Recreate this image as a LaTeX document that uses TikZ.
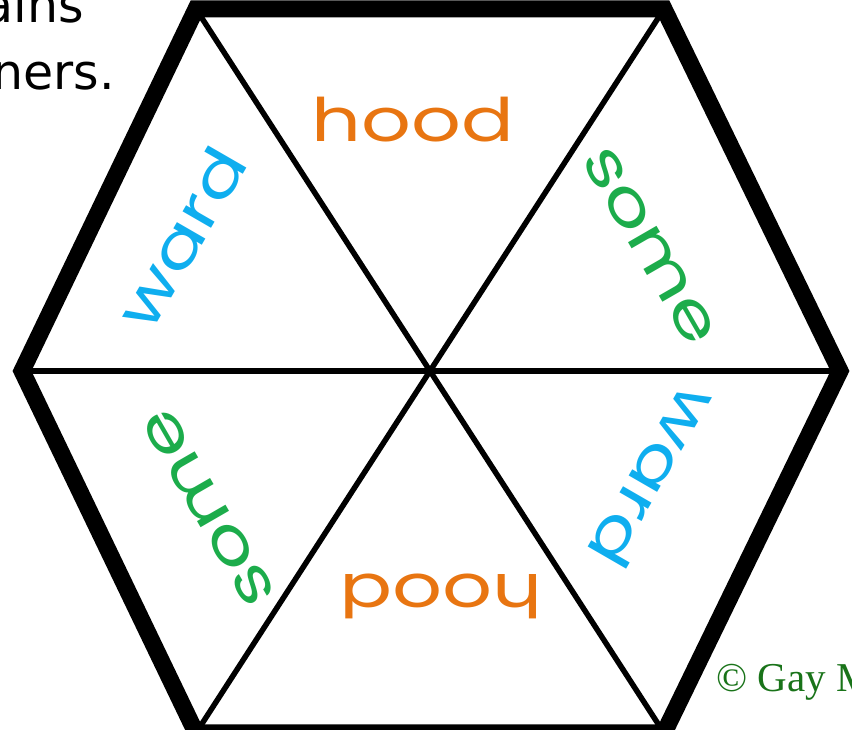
\documentclass[tikz,border=0pt]{standalone}
\usepackage{fontspec}
\setmainfont{DejaVu Sans}
\newfontfamily\handfont{Poppins}
\newfontfamily\copyfont{Liberation Serif}
\usepackage{graphicx}
\definecolor{hoodorange}{RGB}{232,117,17}
\definecolor{somegreen}{RGB}{28,172,75}
\definecolor{wardblue}{RGB}{15,174,239}
\definecolor{copygreen}{RGB}{25,115,25}
\begin{document}
\begin{tikzpicture}[x=1pt,y=1pt,
  outline/.style={line width=17pt, line join=miter},
  spoke/.style={line width=5.5pt},
  word/.style={anchor=base, inner sep=0pt, font=\handfont\fontsize{60}{60}\selectfont},
  prose/.style={anchor=base east, inner sep=0pt, font=\fontsize{49}{58}\selectfont},
]
\useasboundingbox (0,0) rectangle (852,730);
\clip (0,0) rectangle (852,730);
\coordinate (C) at (430,359);
\coordinate (TL) at (196,721);
\coordinate (TR) at (664,721);
\coordinate (R) at (840,359);
\coordinate (BR) at (664,-3);
\coordinate (BL) at (196,-3);
\coordinate (L) at (22,359);
% spokes
\draw[spoke] (L) -- (R);
\draw[spoke] (TL) -- (BR);
\draw[spoke] (TR) -- (BL);
% outline
\draw[outline] (TL) -- (TR) -- (R) -- (BR) -- (BL) -- (L) -- cycle;
% words
\node[word, text=hoodorange, rotate=0] (w1) at (413,588) {\scalebox{1.3}[1]{hood}};
\node[word, text=somegreen, rotate=-60] (w2) at (635,476) {\scalebox{1.3}[1]{some}};
\node[word, text=wardblue, rotate=-120] (w3) at (635,264) {\scalebox{1.3}[1]{ward}};
\node[word, text=hoodorange, rotate=180] (w4) at (441,155) {\scalebox{1.3}[1]{hood}};
\node[word, text=somegreen, rotate=120] (w5) at (223,230) {\scalebox{1.3}[1]{some}};
\node[word, text=wardblue, rotate=60] (w6) at (200,481) {\scalebox{1.3}[1]{ward}};
% prose
\node[prose] (p1) at (84,707) {ains};
\node[prose] (p2) at (115,640) {ners.};
% copyright
\node[anchor=base west, inner sep=0pt, text=copygreen, font=\copyfont\fontsize{41}{41}\selectfont] (cp) at (716,38) {© Gay M};
\end{tikzpicture}
\end{document}
